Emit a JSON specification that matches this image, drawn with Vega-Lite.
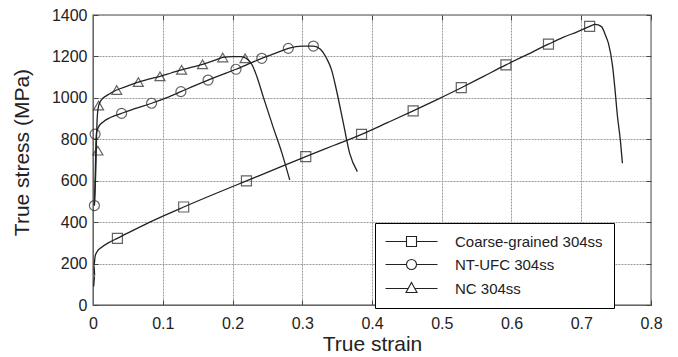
{
  "$schema": "https://vega.github.io/schema/vega-lite/v6.json",
  "width": 558,
  "height": 290,
  "autosize": "none",
  "padding": {"left": 93, "top": 15, "right": 27, "bottom": 52},
  "background": "white",
  "config": {
    "font": "Liberation Sans",
    "view": {"stroke": "#888", "strokeWidth": 1.5},
    "axis": {
      "labelFont": "Liberation Sans",
      "titleFont": "Liberation Sans",
      "labelColor": "#222",
      "titleColor": "#222",
      "labelFontSize": 16,
      "titleFontSize": 21,
      "titleFontWeight": "normal",
      "gridColor": "#999",
      "gridDash": [2, 1],
      "gridWidth": 1,
      "gridOpacity": 1,
      "domainColor": "#666",
      "tickColor": "#444",
      "tickSize": -5,
      "tickWidth": 1
    }
  },
  "datasets": {
    "curves": [
      {"series": "Coarse-grained 304ss", "i": 1, "strain": 0.001, "stress": 90},
      {"series": "Coarse-grained 304ss", "i": 2, "strain": 0.0025, "stress": 140},
      {"series": "Coarse-grained 304ss", "i": 3, "strain": 0.0015, "stress": 190},
      {"series": "Coarse-grained 304ss", "i": 4, "strain": 0.003, "stress": 235},
      {"series": "Coarse-grained 304ss", "i": 5, "strain": 0.006, "stress": 258},
      {"series": "Coarse-grained 304ss", "i": 6, "strain": 0.012, "stress": 278},
      {"series": "Coarse-grained 304ss", "i": 7, "strain": 0.022, "stress": 300},
      {"series": "Coarse-grained 304ss", "i": 8, "strain": 0.035, "stress": 322},
      {"series": "Coarse-grained 304ss", "i": 9, "strain": 0.08, "stress": 398},
      {"series": "Coarse-grained 304ss", "i": 10, "strain": 0.13, "stress": 473},
      {"series": "Coarse-grained 304ss", "i": 11, "strain": 0.175, "stress": 537},
      {"series": "Coarse-grained 304ss", "i": 12, "strain": 0.22, "stress": 599},
      {"series": "Coarse-grained 304ss", "i": 13, "strain": 0.262, "stress": 657},
      {"series": "Coarse-grained 304ss", "i": 14, "strain": 0.305, "stress": 716},
      {"series": "Coarse-grained 304ss", "i": 15, "strain": 0.345, "stress": 770},
      {"series": "Coarse-grained 304ss", "i": 16, "strain": 0.385, "stress": 824},
      {"series": "Coarse-grained 304ss", "i": 17, "strain": 0.422, "stress": 880},
      {"series": "Coarse-grained 304ss", "i": 18, "strain": 0.459, "stress": 937},
      {"series": "Coarse-grained 304ss", "i": 19, "strain": 0.494, "stress": 993},
      {"series": "Coarse-grained 304ss", "i": 20, "strain": 0.528, "stress": 1049},
      {"series": "Coarse-grained 304ss", "i": 21, "strain": 0.56, "stress": 1104},
      {"series": "Coarse-grained 304ss", "i": 22, "strain": 0.592, "stress": 1159},
      {"series": "Coarse-grained 304ss", "i": 23, "strain": 0.623, "stress": 1210},
      {"series": "Coarse-grained 304ss", "i": 24, "strain": 0.653, "stress": 1259},
      {"series": "Coarse-grained 304ss", "i": 25, "strain": 0.674, "stress": 1292},
      {"series": "Coarse-grained 304ss", "i": 26, "strain": 0.695, "stress": 1320},
      {"series": "Coarse-grained 304ss", "i": 27, "strain": 0.712, "stress": 1345},
      {"series": "Coarse-grained 304ss", "i": 28, "strain": 0.72, "stress": 1355},
      {"series": "Coarse-grained 304ss", "i": 29, "strain": 0.729, "stress": 1344},
      {"series": "Coarse-grained 304ss", "i": 30, "strain": 0.735, "stress": 1300},
      {"series": "Coarse-grained 304ss", "i": 31, "strain": 0.739, "stress": 1263},
      {"series": "Coarse-grained 304ss", "i": 32, "strain": 0.745, "stress": 1151},
      {"series": "Coarse-grained 304ss", "i": 33, "strain": 0.748, "stress": 1054},
      {"series": "Coarse-grained 304ss", "i": 34, "strain": 0.752, "stress": 909},
      {"series": "Coarse-grained 304ss", "i": 35, "strain": 0.756, "stress": 797},
      {"series": "Coarse-grained 304ss", "i": 36, "strain": 0.759, "stress": 684},

      {"series": "NT-UFC 304ss", "i": 1, "strain": 0.002, "stress": 480},
      {"series": "NT-UFC 304ss", "i": 2, "strain": 0.003, "stress": 600},
      {"series": "NT-UFC 304ss", "i": 3, "strain": 0.004, "stress": 750},
      {"series": "NT-UFC 304ss", "i": 4, "strain": 0.005, "stress": 830},
      {"series": "NT-UFC 304ss", "i": 5, "strain": 0.008, "stress": 860},
      {"series": "NT-UFC 304ss", "i": 6, "strain": 0.015, "stress": 885},
      {"series": "NT-UFC 304ss", "i": 7, "strain": 0.025, "stress": 905},
      {"series": "NT-UFC 304ss", "i": 8, "strain": 0.041, "stress": 925},
      {"series": "NT-UFC 304ss", "i": 9, "strain": 0.06, "stress": 948},
      {"series": "NT-UFC 304ss", "i": 10, "strain": 0.084, "stress": 974},
      {"series": "NT-UFC 304ss", "i": 11, "strain": 0.105, "stress": 1000},
      {"series": "NT-UFC 304ss", "i": 12, "strain": 0.126, "stress": 1030},
      {"series": "NT-UFC 304ss", "i": 13, "strain": 0.145, "stress": 1058},
      {"series": "NT-UFC 304ss", "i": 14, "strain": 0.165, "stress": 1086},
      {"series": "NT-UFC 304ss", "i": 15, "strain": 0.185, "stress": 1112},
      {"series": "NT-UFC 304ss", "i": 16, "strain": 0.205, "stress": 1138},
      {"series": "NT-UFC 304ss", "i": 17, "strain": 0.224, "stress": 1165},
      {"series": "NT-UFC 304ss", "i": 18, "strain": 0.242, "stress": 1191},
      {"series": "NT-UFC 304ss", "i": 19, "strain": 0.262, "stress": 1216},
      {"series": "NT-UFC 304ss", "i": 20, "strain": 0.28, "stress": 1239},
      {"series": "NT-UFC 304ss", "i": 21, "strain": 0.3, "stress": 1250},
      {"series": "NT-UFC 304ss", "i": 22, "strain": 0.316, "stress": 1250},
      {"series": "NT-UFC 304ss", "i": 23, "strain": 0.326, "stress": 1235},
      {"series": "NT-UFC 304ss", "i": 24, "strain": 0.335, "stress": 1190},
      {"series": "NT-UFC 304ss", "i": 25, "strain": 0.342, "stress": 1135},
      {"series": "NT-UFC 304ss", "i": 26, "strain": 0.349, "stress": 1038},
      {"series": "NT-UFC 304ss", "i": 27, "strain": 0.359, "stress": 877},
      {"series": "NT-UFC 304ss", "i": 28, "strain": 0.368, "stress": 732},
      {"series": "NT-UFC 304ss", "i": 29, "strain": 0.379, "stress": 644},

      {"series": "NC 304ss", "i": 1, "strain": 0.002, "stress": 480},
      {"series": "NC 304ss", "i": 2, "strain": 0.004, "stress": 650},
      {"series": "NC 304ss", "i": 3, "strain": 0.005, "stress": 800},
      {"series": "NC 304ss", "i": 4, "strain": 0.006, "stress": 900},
      {"series": "NC 304ss", "i": 5, "strain": 0.008, "stress": 961},
      {"series": "NC 304ss", "i": 6, "strain": 0.012, "stress": 990},
      {"series": "NC 304ss", "i": 7, "strain": 0.02, "stress": 1012},
      {"series": "NC 304ss", "i": 8, "strain": 0.034, "stress": 1038},
      {"series": "NC 304ss", "i": 9, "strain": 0.05, "stress": 1058},
      {"series": "NC 304ss", "i": 10, "strain": 0.065, "stress": 1076},
      {"series": "NC 304ss", "i": 11, "strain": 0.08, "stress": 1090},
      {"series": "NC 304ss", "i": 12, "strain": 0.096, "stress": 1104},
      {"series": "NC 304ss", "i": 13, "strain": 0.112, "stress": 1120},
      {"series": "NC 304ss", "i": 14, "strain": 0.127, "stress": 1135},
      {"series": "NC 304ss", "i": 15, "strain": 0.142, "stress": 1148},
      {"series": "NC 304ss", "i": 16, "strain": 0.157, "stress": 1162},
      {"series": "NC 304ss", "i": 17, "strain": 0.172, "stress": 1178},
      {"series": "NC 304ss", "i": 18, "strain": 0.186, "stress": 1195},
      {"series": "NC 304ss", "i": 19, "strain": 0.2, "stress": 1199},
      {"series": "NC 304ss", "i": 20, "strain": 0.212, "stress": 1199},
      {"series": "NC 304ss", "i": 21, "strain": 0.22, "stress": 1190},
      {"series": "NC 304ss", "i": 22, "strain": 0.228, "stress": 1160},
      {"series": "NC 304ss", "i": 23, "strain": 0.235, "stress": 1102},
      {"series": "NC 304ss", "i": 24, "strain": 0.244, "stress": 1006},
      {"series": "NC 304ss", "i": 25, "strain": 0.258, "stress": 861},
      {"series": "NC 304ss", "i": 26, "strain": 0.271, "stress": 732},
      {"series": "NC 304ss", "i": 27, "strain": 0.282, "stress": 604}
    ],
    "marks": [
      {"series": "Coarse-grained 304ss", "strain": 0.035, "stress": 322},
      {"series": "Coarse-grained 304ss", "strain": 0.13, "stress": 473},
      {"series": "Coarse-grained 304ss", "strain": 0.22, "stress": 599},
      {"series": "Coarse-grained 304ss", "strain": 0.305, "stress": 716},
      {"series": "Coarse-grained 304ss", "strain": 0.385, "stress": 824},
      {"series": "Coarse-grained 304ss", "strain": 0.459, "stress": 937},
      {"series": "Coarse-grained 304ss", "strain": 0.528, "stress": 1049},
      {"series": "Coarse-grained 304ss", "strain": 0.592, "stress": 1159},
      {"series": "Coarse-grained 304ss", "strain": 0.653, "stress": 1259},
      {"series": "Coarse-grained 304ss", "strain": 0.712, "stress": 1345},
      {"series": "NT-UFC 304ss", "strain": 0.002, "stress": 480},
      {"series": "NT-UFC 304ss", "strain": 0.003, "stress": 825},
      {"series": "NT-UFC 304ss", "strain": 0.041, "stress": 925},
      {"series": "NT-UFC 304ss", "strain": 0.084, "stress": 974},
      {"series": "NT-UFC 304ss", "strain": 0.126, "stress": 1030},
      {"series": "NT-UFC 304ss", "strain": 0.165, "stress": 1086},
      {"series": "NT-UFC 304ss", "strain": 0.205, "stress": 1138},
      {"series": "NT-UFC 304ss", "strain": 0.242, "stress": 1191},
      {"series": "NT-UFC 304ss", "strain": 0.28, "stress": 1239},
      {"series": "NT-UFC 304ss", "strain": 0.316, "stress": 1250},
      {"series": "NC 304ss", "strain": 0.007, "stress": 745},
      {"series": "NC 304ss", "strain": 0.008, "stress": 963},
      {"series": "NC 304ss", "strain": 0.034, "stress": 1038},
      {"series": "NC 304ss", "strain": 0.065, "stress": 1076},
      {"series": "NC 304ss", "strain": 0.096, "stress": 1104},
      {"series": "NC 304ss", "strain": 0.127, "stress": 1135},
      {"series": "NC 304ss", "strain": 0.157, "stress": 1162},
      {"series": "NC 304ss", "strain": 0.186, "stress": 1195},
      {"series": "NC 304ss", "strain": 0.218, "stress": 1191}
    ]
  },
  "layer": [
    {
      "data": {"name": "curves"},
      "mark": {"type": "line", "color": "#222", "strokeWidth": 1.3, "interpolate": "monotone"},
      "encoding": {
        "x": {
          "field": "strain", "type": "quantitative",
          "scale": {"domain": [0, 0.8], "nice": false, "zero": false},
          "axis": {
            "orient": "bottom", "title": "True strain",
            "values": [0, 0.1, 0.2, 0.3, 0.4, 0.5, 0.6, 0.7, 0.8],
            "labelExpr": "datum.value == 0 ? '0' : format(datum.value, '.1f')",
            "grid": true, "labelPadding": 15, "titlePadding": 2, "labelFlush": false
          }
        },
        "y": {
          "field": "stress", "type": "quantitative",
          "scale": {"domain": [0, 1400], "nice": false},
          "axis": {
            "orient": "left", "title": "True stress (MPa)",
            "values": [0, 200, 400, 600, 800, 1000, 1200, 1400],
            "format": "d", "grid": true, "labelPadding": 11,
            "titleX": -71, "titleY": 137, "titleBaseline": "middle", "titleAlign": "center", "titleAngle": -90
          }
        },
        "detail": {"field": "series", "type": "nominal"},
        "order": {"field": "i", "type": "quantitative"}
      }
    },
    {
      "data": {"name": "marks"},
      "mark": {"type": "point", "filled": false, "size": 100, "stroke": "#222", "strokeWidth": 1.2},
      "encoding": {
        "x": {
          "field": "strain", "type": "quantitative",
          "axis": {"orient": "top", "title": null, "labels": false, "grid": false, "domain": false,
                   "values": [0, 0.1, 0.2, 0.3, 0.4, 0.5, 0.6, 0.7, 0.8]}
        },
        "y": {
          "field": "stress", "type": "quantitative",
          "axis": {"orient": "right", "title": null, "labels": false, "grid": false, "domain": false,
                   "values": [0, 200, 400, 600, 800, 1000, 1200, 1400]}
        },
        "shape": {
          "field": "series", "type": "nominal",
          "scale": {"domain": ["Coarse-grained 304ss", "NT-UFC 304ss", "NC 304ss"], "range": ["square", "circle", "triangle-up"]},
          "legend": null
        }
      }
    },
    {
      "data": {"name": "marks"},
      "mark": {"type": "point", "filled": false, "size": 100, "stroke": "#222", "strokeWidth": 1.1, "opacity": 0},
      "encoding": {
        "x": {"field": "strain", "type": "quantitative", "axis": null},
        "y": {"field": "stress", "type": "quantitative", "axis": null},
        "shape": {
          "field": "series", "type": "nominal",
          "scale": {
            "domain": ["Coarse-grained 304ss", "NT-UFC 304ss", "NC 304ss"],
            "range": [
              "M-5.2,0H-1M1,0H5.2M-1,-1H1V1H-1Z",
              "M-5.2,0H-1M1,0H5.2M-1,0A1,1 0 1,0 1,0A1,1 0 1,0 -1,0",
              "M-5.2,0H-0.66M0.66,0H5.2M0,-1.2L1.1,0.8L-1.1,0.8Z"
            ]
          },
          "legend": {
            "title": null,
            "orient": "none",
            "legendX": 282,
            "legendY": 208,
            "padding": 11,
            "rowPadding": 7,
            "symbolOffset": 18,
            "labelOffset": 36,
            "labelFontSize": 15,
            "labelFont": "Liberation Sans",
            "labelColor": "#222",
            "labelLimit": 400,
            "labelExpr": "datum.label + '       '",
            "strokeColor": "#000",
            "fillColor": "white",
            "symbolSize": 100,
            "symbolOpacity": 1,
            "symbolStrokeColor": "#222",
            "symbolStrokeWidth": 1.1,
            "symbolFillColor": "transparent",
            "encode": {"legend": {"strokeWidth": {"value": 2}}}
          }
        }
      }
    }
  ],
  "resolve": {
    "axis": {"x": "independent", "y": "independent"},
    "scale": {"shape": "independent"},
    "legend": {"shape": "independent"}
  }
}
